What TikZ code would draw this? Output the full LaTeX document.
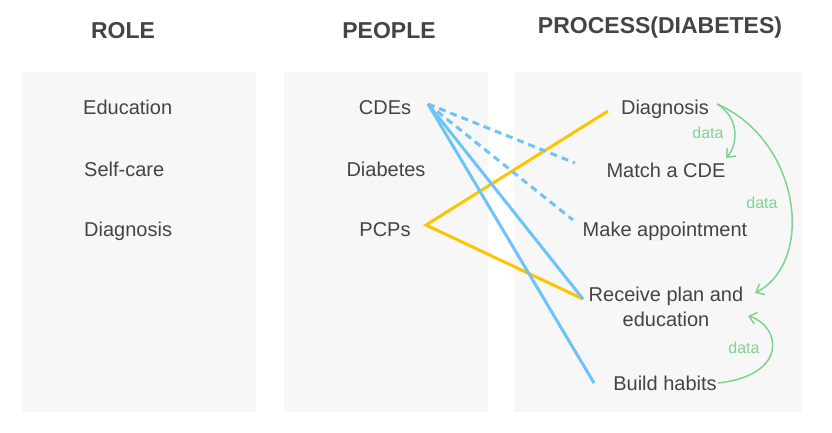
\documentclass[tikz,border=0pt]{standalone}
\usepackage{fontspec}
\setmainfont{Liberation Sans}
\usetikzlibrary{arrows.meta}

\definecolor{panel}{HTML}{F7F7F7}
\definecolor{ink}{HTML}{444444}
\definecolor{cdeblue}{HTML}{6EC3F7}
\definecolor{pcpgold}{HTML}{FFC400}
\definecolor{datagreen}{HTML}{7DD491}

\tikzset{
  head/.style={font=\fontsize{23}{27}\selectfont\bfseries, text=ink, inner sep=0, anchor=base},
  item/.style={font=\fontsize{20}{25}\selectfont, text=ink, inner sep=0, anchor=base, align=center},
  datalabel/.style={font=\fontsize{16}{19}\selectfont, text=datagreen, inner sep=0, anchor=base},
  cdeline/.style={cdeblue, line width=3pt},
  pcpline/.style={pcpgold, line width=3pt},
  dataflow/.style={datagreen, line width=1.5pt, -{Straight Barb[length=7pt,width=12pt]}}
}

\begin{document}
\begin{tikzpicture}[x=1pt,y=-1pt]
    \useasboundingbox (0,0) rectangle (832,432);

    % panels
    \fill[panel] (22,72) rectangle (256,412);
    \fill[panel] (284,72) rectangle (488,412);
    \fill[panel] (514,72) rectangle (802,412);

    % headings
    \node[head] (role) at (123,38) {ROLE};
    \node[head] (people) at (389,38) {PEOPLE};
    \node[head] (process) at (660,33) {PROCESS(DIABETES)};

    % roles
    \node[item, anchor=base west] (education) at (83,114) {Education};
    \node[item, anchor=base west] (selfcare) at (84,176) {Self-care};
    \node[item, anchor=base west] (diagnosis) at (84,236) {Diagnosis};

    % people
    \node[item] (cdes) at (385,114) {CDEs};
    \node[item] (diabetes) at (386,176) {Diabetes};
    \node[item] (pcps) at (385,236) {PCPs};

    % process steps
    \node[item] (diag) at (665,114) {Diagnosis};
    \node[item] (match) at (666,177) {Match a CDE};
    \node[item] (appt) at (665,236) {Make appointment};
    \node[item, anchor=north] (plan) at (666,287) {Receive plan and\\education};
    \node[item] (habits) at (665,390) {Build habits};

    % line ends
    \coordinate (cdesR) at (428,104);
    \coordinate (pcpsR) at (426,225);
    \coordinate (diagL) at (608,111);
    \coordinate (matchL) at (575,163);
    \coordinate (apptL) at (573,220);
    \coordinate (planL) at (583,299);
    \coordinate (habitsL) at (594,383);
    \coordinate (diagR) at (717,104);
    \coordinate (matchR) at (726,158);
    \coordinate (planR) at (755,293);
    \coordinate (planB) at (748,316);
    \coordinate (habitsR) at (718,383);

    % who does what
    \draw[pcpline] (diagL) -- (pcpsR) -- (planL);
    \draw[cdeline, dash pattern=on 7pt off 5pt] (cdesR) -- (matchL);
    \draw[cdeline, dash pattern=on 7pt off 5pt] (cdesR) -- (apptL);
    \draw[cdeline] (cdesR) -- (planL);
    \draw[cdeline] (cdesR) -- (habitsL);

    % data flow
    \draw[dataflow] (diagR) .. controls (740,118) and (738,145) .. (matchR);
    \draw[dataflow] (diagR) .. controls (800,140) and (816,261) .. (planR);
    \draw[dataflow] (habitsR) .. controls (790,375) and (780,325) .. (planB);
    \node[datalabel] (data1) at (708,138) {data};
    \node[datalabel] (data2) at (762,208) {data};
    \node[datalabel] (data3) at (744,353) {data};
\end{tikzpicture}
\end{document}
